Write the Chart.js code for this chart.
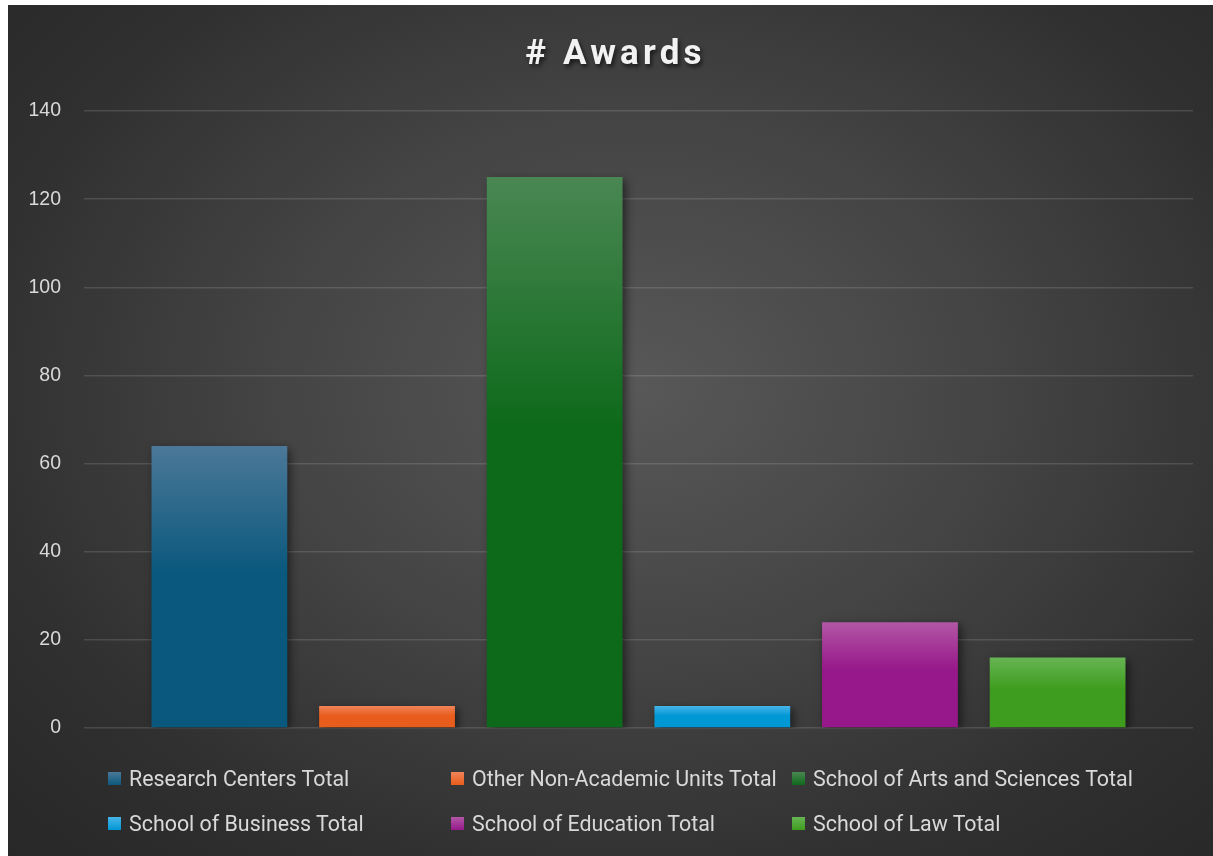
<!DOCTYPE html>
<html>
<head>
<meta charset="utf-8">
<title># Awards</title>
<script src="https://cdn.jsdelivr.net/npm/chart.js@4.4.1/dist/chart.umd.min.js"></script>
<style>
  html, body { margin: 0; padding: 0; background: #ffffff; }
  #frame {
    position: absolute; left: 8px; top: 5px; width: 1205px; height: 851px;
    background: radial-gradient(ellipse 75% 80% at 52% 45%, #585858 0%, #444444 40%, #2f2f2f 75%, #272727 100%);
    overflow: hidden;
  }
  #chart-wrap { position: absolute; left: 0; top: 0; width: 1205px; height: 851px; }
  #title {
    position: absolute; left: 10px; right: 0; top: 27px; text-align: center;
    font-family: Roboto, "Noto Sans", sans-serif; font-weight: 700; font-size: 35px;
    letter-spacing: 4.2px; color: #f2f2f2; text-shadow: 2px 3px 4px rgba(0,0,0,0.6);
  }
  #legend {
    position: absolute; left: 100px; top: 761px; width: 1100px;
    display: grid; grid-template-columns: 343px 341px 400px; row-gap: 21px;
    font-family: Roboto, "Noto Sans", sans-serif; font-size: 21.4px; color: #d9d9d9;
  }
  .legend-item { display: flex; align-items: center; height: 24px; white-space: nowrap; }
  .legend-box { width: 13px; height: 13px; margin-right: 8px; flex: none; }
</style>
</head>
<body>
<div id="frame">
  <div id="chart-wrap"><canvas id="awards-chart"></canvas></div>
  <div id="title"># Awards</div>
  <div id="legend"></div>
</div>
<script>
// 集計データ
var unitNames = [
  'Research Centers Total',
  'Other Non-Academic Units Total',
  'School of Arts and Sciences Total',
  'School of Business Total',
  'School of Education Total',
  'School of Law Total'
];
var awardCounts = [64, 5, 125, 5, 24, 16];
var yTicks = [0, 20, 40, 60, 80, 100, 120, 140];

// 棒の色（上 → 下のグラデーション）
var barTopColors = ['#4b7898', '#f0845a', '#4a8753', '#48b5e8', '#b257a5', '#67b454'];
var barBottomColors = ['#0a587d', '#e85d1b', '#0e6a1b', '#0097d5', '#97188a', '#3e9d1e'];

function barGradient(i) {
  return function(ctx) {
    var chart = ctx.chart;
    if (!chart.chartArea) return barBottomColors[i];
    var y = chart.scales.y;
    var top = y.getPixelForValue(ctx.raw);
    var bottom = y.getPixelForValue(0);
    var g = chart.ctx.createLinearGradient(0, top, 0, bottom);
    g.addColorStop(0, barTopColors[i]);
    g.addColorStop(0.45, barBottomColors[i]);
    g.addColorStop(1, barBottomColors[i]);
    return g;
  };
}

// 凡例（3列）
var legendEl = document.getElementById('legend');
legendEl.innerHTML = unitNames.map(function(name, i) {
  return '<div class="legend-item"><span class="legend-box" style="background:linear-gradient(' +
    barTopColors[i] + ',' + barBottomColors[i] + ');"></span>' + name + '</div>';
}).join('');

// 棒の影
var barShadow = {
  id: 'barShadow',
  beforeDatasetsDraw: function(chart) {
    var c = chart.ctx;
    c.save();
    c.shadowColor = 'rgba(0,0,0,0.55)';
    c.shadowBlur = 9;
    c.shadowOffsetX = 3;
    c.shadowOffsetY = 3;
  },
  afterDatasetsDraw: function(chart) {
    chart.ctx.restore();
  }
};

var ctx = document.getElementById('awards-chart').getContext('2d');
new Chart(ctx, {
  type: 'bar',
  data: {
    labels: [''],
    datasets: unitNames.map(function(name, i) {
      return {
        label: name,
        data: [awardCounts[i]],
        backgroundColor: barGradient(i),
        borderWidth: 0,
        categoryPercentage: 0.907,
        barPercentage: 0.81
      };
    })
  },
  options: {
    responsive: true,
    maintainAspectRatio: false,
    animation: false,
    layout: { padding: { top: 106, right: 20, bottom: 128, left: 0 } },
    plugins: {
      legend: { display: false },
      title: { display: false },
      tooltip: { enabled: false }
    },
    scales: {
      x: { display: false },
      y: {
        min: 0,
        max: 140,
        afterBuildTicks: function(scale) {
          scale.ticks = yTicks.map(function(v) { return { value: v }; });
        },
        afterFit: function(scale) { scale.width = 76; },
        border: { display: false },
        grid: { color: 'rgba(255,255,255,0.13)', lineWidth: 1.5, drawTicks: false },
        ticks: {
          color: '#d9d9d9',
          padding: 23,
          font: { family: '"Liberation Sans", Arial, sans-serif', size: 19.5 }
        }
      }
    }
  },
  plugins: [barShadow]
});
</script>
</body>
</html>
